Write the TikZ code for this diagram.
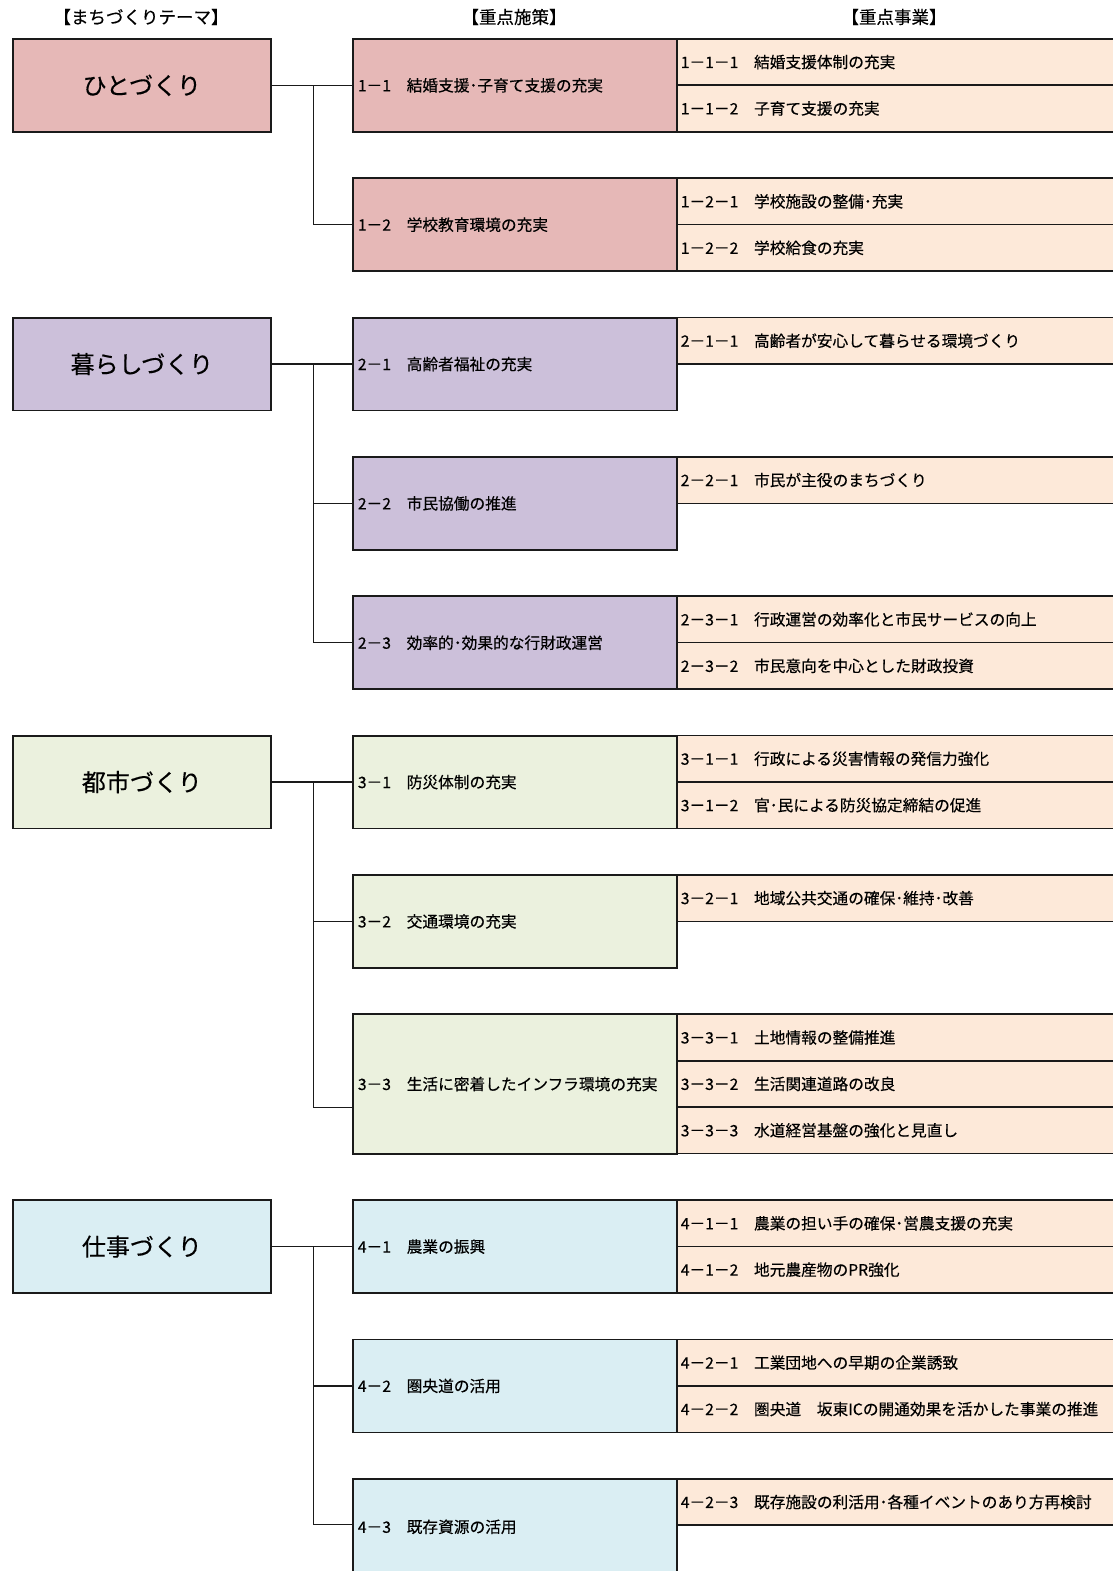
\documentclass[tikz,border=0pt]{standalone}
\usepackage{fontspec}
\setmainfont{Noto Sans CJK JP}[FakeBold=0.35]
\definecolor{linec}{HTML}{1A1A1A}
\definecolor{detailc}{HTML}{FDE9D9}
\definecolor{tonec}{HTML}{E6B8B7}
\definecolor{ttwoc}{HTML}{CCC0DA}
\definecolor{tthreec}{HTML}{EBF1DE}
\definecolor{tfourc}{HTML}{DAEEF3}
\newcommand\ry[1]{38+46.45*#1}
\begin{document}
\begin{tikzpicture}[x=1pt,y=-1pt,
  hdr/.style={font=\fontsize{17.5}{20}\selectfont, inner sep=0pt},
  theme/.style={draw=linec, line width=1.8pt, minimum width=258pt, minimum height=92.9pt,
    anchor=north west, inner sep=0pt, font=\fontsize{24}{28}\selectfont},
  policy/.style={draw=linec, line width=1.8pt, minimum height=92.9pt, text width=314pt,
    inner xsep=5pt, inner ysep=0pt, align=left, anchor=north west,
    font=\fontsize{15.7}{18}\selectfont},
  detail/.style={draw=linec, line width=1.6pt, fill=detailc, minimum height=46.45pt,
    text width=452pt, inner xsep=4pt, inner ysep=0pt, align=left, anchor=north west,
    font=\fontsize{15.7}{18}\selectfont},
  link/.style={draw=linec, line width=1.3pt}]
\useasboundingbox (0,0) rectangle (1113,1571);
\clip (0,0) rectangle (1113,1571);

% headers
\node[hdr] (h1) at (141,17) {【まちづくりテーマ】};
\node[hdr] (h2) at (514,17) {【重点施策】};
\node[hdr] (h3) at (894,17) {【重点事業】};

% details
\node[detail] (d111) at (676,{\ry{0}}) {1－1－1　結婚支援体制の充実};
\node[detail] (d112) at (676,{\ry{1}}) {1－1－2　子育て支援の充実};
\node[detail] (d121) at (676,{\ry{3}}) {1－2－1　学校施設の整備･充実};
\node[detail] (d122) at (676,{\ry{4}}) {1－2－2　学校給食の充実};
\node[detail] (d211) at (676,{\ry{6}}) {2－1－1　高齢者が安心して暮らせる環境づくり};
\node[detail] (d221) at (676,{\ry{9}}) {2－2－1　市民が主役のまちづくり};
\node[detail] (d231) at (676,{\ry{12}}) {2－3－1　行政運営の効率化と市民サービスの向上};
\node[detail] (d232) at (676,{\ry{13}}) {2－3－2　市民意向を中心とした財政投資};
\node[detail] (d311) at (676,{\ry{15}}) {3－1－1　行政による災害情報の発信力強化};
\node[detail] (d312) at (676,{\ry{16}}) {3－1－2　官･民による防災協定締結の促進};
\node[detail] (d321) at (676,{\ry{18}}) {3－2－1　地域公共交通の確保･維持･改善};
\node[detail] (d331) at (676,{\ry{21}}) {3－3－1　土地情報の整備推進};
\node[detail] (d332) at (676,{\ry{22}}) {3－3－2　生活関連道路の改良};
\node[detail] (d333) at (676,{\ry{23}}) {3－3－3　水道経営基盤の強化と見直し};
\node[detail] (d411) at (676,{\ry{25}}) {4－1－1　農業の担い手の確保･営農支援の充実};
\node[detail] (d412) at (676,{\ry{26}}) {4－1－2　地元農産物のPR強化};
\node[detail] (d421) at (676,{\ry{28}}) {4－2－1　工業団地への早期の企業誘致};
\node[detail] (d422) at (676,{\ry{29}}) {4－2－2　圏央道　坂東ICの開通効果を活かした事業の推進};
\node[detail] (d423) at (676,{\ry{31}}) {4－2－3　既存施設の利活用･各種イベントのあり方再検討};

% themes
\node[theme, fill=tonec] (t1) at (12,{\ry{0}}) {ひとづくり};
\node[theme, fill=ttwoc] (t2) at (12,{\ry{6}}) {暮らしづくり};
\node[theme, fill=tthreec] (t3) at (12,{\ry{15}}) {都市づくり};
\node[theme, fill=tfourc] (t4) at (12,{\ry{25}}) {仕事づくり};

% policies
\node[policy, fill=tonec] (p11) at (352,{\ry{0}}) {1－1　結婚支援･子育て支援の充実};
\node[policy, fill=tonec] (p12) at (352,{\ry{3}}) {1－2　学校教育環境の充実};
\node[policy, fill=ttwoc] (p21) at (352,{\ry{6}}) {2－1　高齢者福祉の充実};
\node[policy, fill=ttwoc] (p22) at (352,{\ry{9}}) {2－2　市民協働の推進};
\node[policy, fill=ttwoc] (p23) at (352,{\ry{12}}) {2－3　効率的･効果的な行財政運営};
\node[policy, fill=tthreec] (p31) at (352,{\ry{15}}) {3－1　防災体制の充実};
\node[policy, fill=tthreec] (p32) at (352,{\ry{18}}) {3－2　交通環境の充実};
\node[policy, fill=tthreec, minimum height=139.35pt] (p33) at (352,{\ry{21}}) {3－3　生活に密着したインフラ環境の充実};
\node[policy, fill=tfourc] (p41) at (352,{\ry{25}}) {4－1　農業の振興};
\node[policy, fill=tfourc] (p42) at (352,{\ry{28}}) {4－2　圏央道の活用};
\node[policy, fill=tfourc, minimum height=96pt] (p43) at (352,{\ry{31}}) {4－3　既存資源の活用};

% connectors
\coordinate (b1) at ([xshift=42pt]t1.east);
\coordinate (b2) at ([xshift=42pt]t2.east);
\coordinate (b3) at ([xshift=42pt]t3.east);
\coordinate (b4) at ([xshift=42pt]t4.east);
\coordinate (p33in) at ([yshift=-23.25pt]p33.west);
\coordinate (p43in) at (p43.west |- {0,\ry{32}});

\draw[link] (t1.east) -- (p11.west);
\draw[link] (b1) |- (p12.west);

\draw[link] (t2.east) -- (p21.west);
\draw[link] (b2) |- (p23.west);
\draw[link] (p22.west) -- (p22.west -| b2);

\draw[link] (t3.east) -- (p31.west);
\draw[link] (b3) |- (p33in);
\draw[link] (p32.west) -- (p32.west -| b3);

\draw[link] (t4.east) -- (p41.west);
\draw[link] (b4) |- (p43in);
\draw[link] (p42.west) -- (p42.west -| b4);
\end{tikzpicture}
\end{document}
